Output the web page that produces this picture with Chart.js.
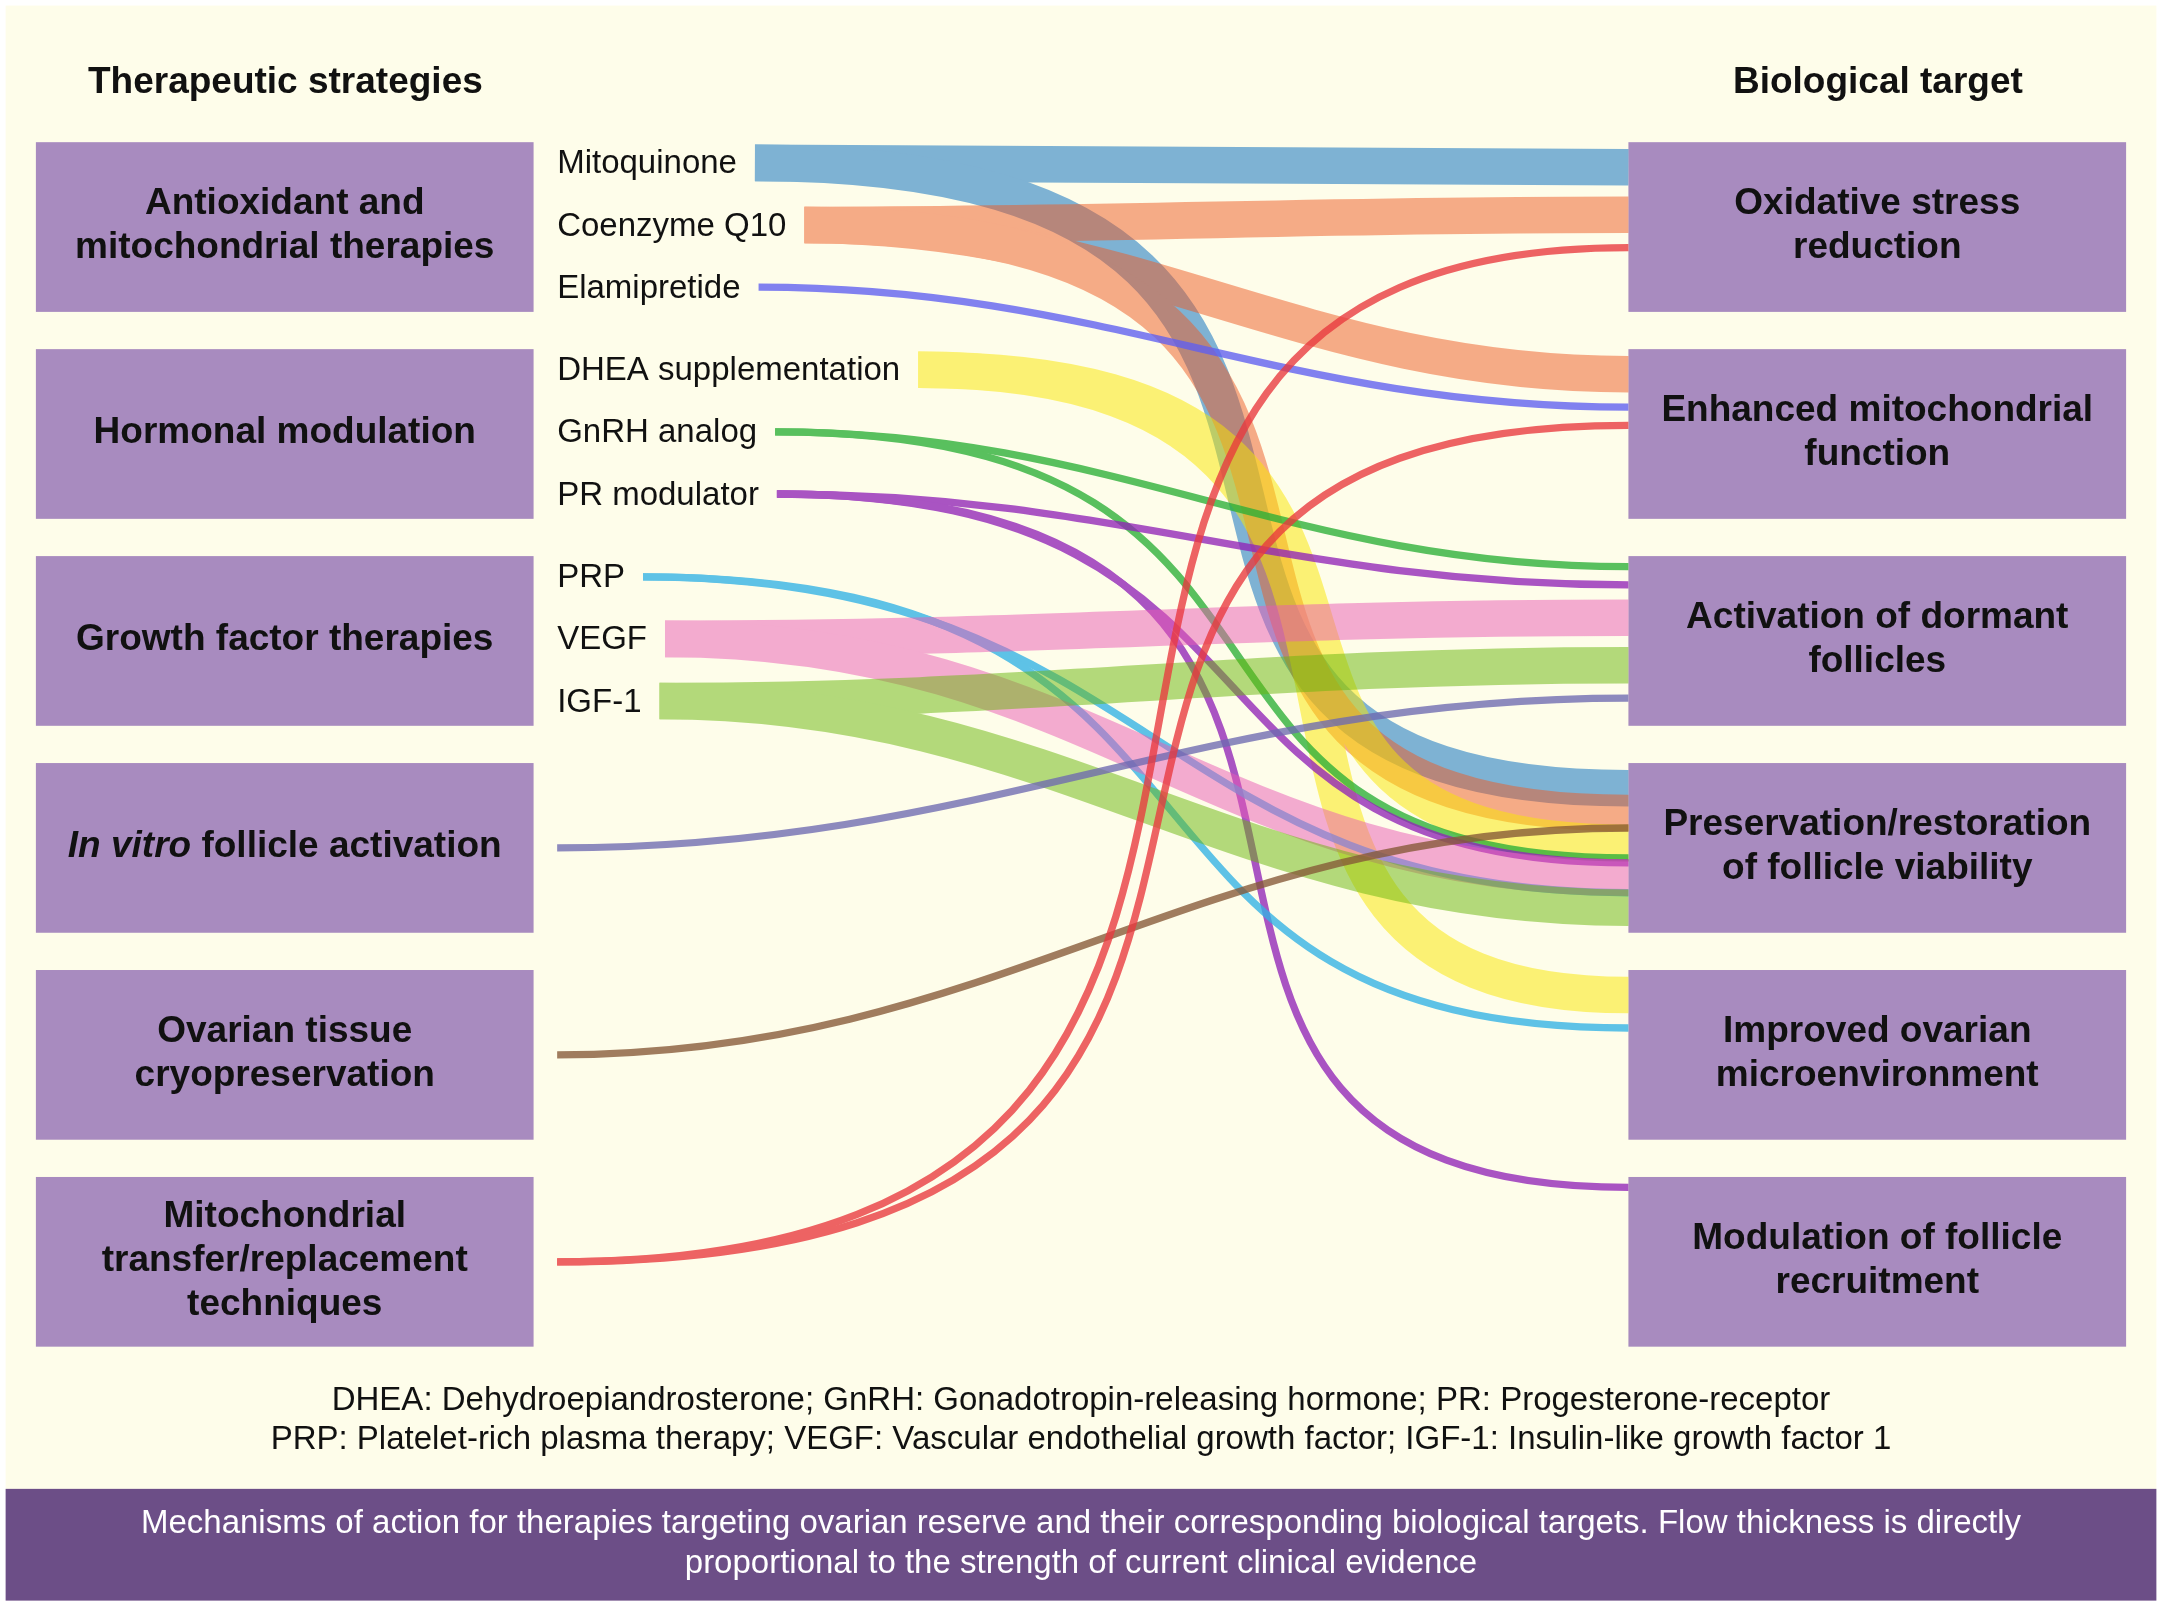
<!DOCTYPE html>
<html>
<head>
<meta charset="utf-8">
<script src="https://cdn.jsdelivr.net/npm/chart.js@4.4.0/dist/chart.umd.min.js"></script>
<style>
  html, body { margin: 0; padding: 0; background: #ffffff; }
  canvas { display: block; }
</style>
</head>
<body>
<canvas id="chart" width="2162" height="1606"></canvas>
<script>
// left column: therapeutic strategies (text between * is italic)
const strategies = [
  ['Antioxidant and', 'mitochondrial therapies'],
  ['Hormonal modulation'],
  ['Growth factor therapies'],
  ['*In vitro* follicle activation'],
  ['Ovarian tissue', 'cryopreservation'],
  ['Mitochondrial', 'transfer/replacement', 'techniques']
];

// the agents listed inside each strategy
const treatments = ['Mitoquinone', 'Coenzyme Q10', 'Elamipretide',
  'DHEA supplementation', 'GnRH analog', 'PR modulator',
  'PRP', 'VEGF', 'IGF-1'];
const treatmentGroup = [0, 0, 0, 1, 1, 1, 2, 2, 2];

// right column: biological targets
const targets = [
  ['Oxidative stress', 'reduction'],
  ['Enhanced mitochondrial', 'function'],
  ['Activation of dormant', 'follicles'],
  ['Preservation/restoration', 'of follicle viability'],
  ['Improved ovarian', 'microenvironment'],
  ['Modulation of follicle', 'recruitment']
];

// flow sources: the nine agents, then three strategies that flow on their own
const flowSources = ['Mitoquinone', 'Coenzyme Q10', 'Elamipretide',
  'DHEA supplementation', 'GnRH analog', 'PR modulator', 'PRP', 'VEGF', 'IGF-1',
  'In vitro follicle activation', 'Ovarian tissue cryopreservation',
  'Mitochondrial transfer/replacement techniques'];
const flowSourceStrategy = [0, 0, 0, 1, 1, 1, 2, 2, 2, 3, 4, 5];

// links, listed in the order they stack on each target
const linkSource = [
  'Mitoquinone', 'Coenzyme Q10', 'Mitochondrial transfer/replacement techniques',
  'Coenzyme Q10', 'Elamipretide', 'Mitochondrial transfer/replacement techniques',
  'GnRH analog', 'PR modulator', 'VEGF', 'IGF-1', 'In vitro follicle activation',
  'Mitoquinone', 'Coenzyme Q10', 'Ovarian tissue cryopreservation', 'DHEA supplementation',
  'GnRH analog', 'PR modulator', 'VEGF', 'PRP', 'IGF-1',
  'DHEA supplementation', 'PRP',
  'PR modulator'
];
const linkTarget = [
  0, 0, 0,
  1, 1, 1,
  2, 2, 2, 2, 2,
  3, 3, 3, 3, 3, 3, 3, 3, 3,
  4, 4,
  5
];
// strength of clinical evidence (flow thickness)
const linkEvidence = [
  5, 5, 1,
  5, 1, 1,
  1, 1, 5, 5, 1,
  5, 5, 1, 5, 1, 1, 5, 1, 5,
  5, 1,
  1
];

const footnote = [
  'DHEA: Dehydroepiandrosterone; GnRH: Gonadotropin-releasing hormone; PR: Progesterone-receptor',
  'PRP: Platelet-rich plasma therapy; VEGF: Vascular endothelial growth factor; IGF-1: Insulin-like growth factor 1'
];
const caption = [
  'Mechanisms of action for therapies targeting ovarian reserve and their corresponding biological targets. Flow thickness is directly',
  'proportional to the strength of current clinical evidence'
];

// ---- styles / layout (x in % of width, y in box rows) ----
const FONT = '"Liberation Sans", Arial, Helvetica, sans-serif';
const sourceColours = ['#0069bd', '#ee5b25', '#5f5ff1', '#fae700', '#2caf37', '#9225b8',
  '#32b2e5', '#ea5bb5', '#6ab70d', '#6e6ab1', '#865937', '#e9393e'];
const Y_MIN = -0.687, Y_MAX = 7.073;
const BOX_H = 0.82;
const LEFT_BOX = [1.66, 24.68], LABEL_X = 25.77, RIGHT_BOX = [75.32, 98.34];
const WEIGHT_V = 0.0353;      // row units per unit of evidence
const STACK_PAD = 0.033, STACK_GAP = 0.053;

function sourceY(s) {
  const name = flowSources[s];
  const t = treatments.indexOf(name);
  if (t >= 0) {
    const k = treatmentGroup.slice(0, t).filter(g => g === treatmentGroup[t]).length;
    return treatmentGroup[t] + 0.1 + 0.3 * k;
  }
  return flowSourceStrategy[s] + BOX_H / 2;
}

function targetCentres() {
  const centres = new Array(linkSource.length);
  targets.forEach((tg, ti) => {
    const idx = [];
    linkTarget.forEach((t, i) => { if (t === ti) idx.push(i); });
    const th = idx.map(i => linkEvidence[i] * WEIGHT_V);
    const top = ti + STACK_PAD, bottom = ti + BOX_H - STACK_PAD;
    const c = [];
    let pos = top;
    th.forEach(t => { c.push(pos + t / 2); pos += t + STACK_GAP; });
    pos -= STACK_GAP;
    if (pos > bottom && th.length > 1) {
      // not enough room: squeeze the flows together to fit the box
      let run = 0;
      const raw = th.map(t => { const m = run + t / 2; run += t; return m; });
      const first = top + th[0] / 2, last = bottom - th[th.length - 1] / 2;
      const k = (last - first) / (raw[raw.length - 1] - raw[0]);
      raw.forEach((m, j) => { c[j] = first + (m - raw[0]) * k; });
    }
    idx.forEach((i, j) => { centres[i] = c[j]; });
  });
  return centres;
}

const ends = targetCentres();
const datasets = linkSource.map((name, i) => {
  const s = flowSources.indexOf(name);
  return {
    label: name + ' -> ' + targets[linkTarget[i]].join(' '),
    source: s,
    evidence: linkEvidence[i],
    data: [{ x: LABEL_X, y: sourceY(s) }, { x: RIGHT_BOX[0], y: ends[i] }],
    pointRadius: 0,
    showLine: false
  };
});

function drawRich(ctx, line, cx, cy, size, weight) {
  const parts = line.split('*');
  const fonts = parts.map((p, i) => (i % 2 ? 'italic ' : '') + weight + ' ' + size + 'px ' + FONT);
  let total = 0;
  const widths = parts.map((p, i) => { ctx.font = fonts[i]; const w = ctx.measureText(p).width; total += w; return w; });
  let x = cx - total / 2;
  ctx.textAlign = 'left';
  parts.forEach((p, i) => { ctx.font = fonts[i]; ctx.fillText(p, x, cy); x += widths[i]; });
}

function labelWidth(ctx, s) {
  const name = flowSources[s];
  if (treatments.indexOf(name) < 0) return 0;
  ctx.font = '33px ' + FONT;
  return ctx.measureText(name).width + 18;
}

const diagram = {
  id: 'diagram',
  beforeDraw(chart) {
    const ctx = chart.ctx, xs = chart.scales.x, ys = chart.scales.y;
    const X = v => xs.getPixelForValue(v), Y = v => ys.getPixelForValue(v);
    ctx.save();
    ctx.fillStyle = '#ffffff';
    ctx.fillRect(0, 0, chart.width, chart.height);
    ctx.fillStyle = '#fefdea';
    ctx.fillRect(X(0.26), Y(-0.66), X(99.74) - X(0.26), Y(6.507) - Y(-0.66));

    ctx.fillStyle = '#111111';
    ctx.textBaseline = 'middle';
    drawRich(ctx, 'Therapeutic strategies', X(13.2), Y(-0.285), 37, 'bold');
    drawRich(ctx, 'Biological target', X(86.86), Y(-0.285), 37, 'bold');

    const lineStep = 0.2133;
    const drawBox = (row, x0, x1, lines) => {
      ctx.fillStyle = '#a88bbf';
      ctx.fillRect(X(x0), Y(row), X(x1) - X(x0), Y(row + BOX_H) - Y(row));
      ctx.fillStyle = '#111111';
      const mid = row + BOX_H / 2 - 0.004;
      lines.forEach((ln, k) => {
        drawRich(ctx, ln, (X(x0) + X(x1)) / 2, Y(mid + (k - (lines.length - 1) / 2) * lineStep), 37, 'bold');
      });
    };
    strategies.forEach((lines, r) => drawBox(r, LEFT_BOX[0], LEFT_BOX[1], lines));
    targets.forEach((lines, r) => drawBox(r, RIGHT_BOX[0], RIGHT_BOX[1], lines));

    ctx.font = '33px ' + FONT;
    ctx.textAlign = 'left';
    ctx.fillStyle = '#111111';
    treatments.forEach(t => {
      ctx.fillText(t, X(LABEL_X), Y(sourceY(flowSources.indexOf(t)) + 0.007));
    });
    ctx.restore();
  },
  afterDatasetsDraw(chart) {
    const ctx = chart.ctx, ys = chart.scales.y;
    const pxPerRow = Math.abs(ys.getPixelForValue(1) - ys.getPixelForValue(0));
    const off = document.createElement('canvas');
    off.width = chart.canvas.width;
    off.height = chart.canvas.height;
    const octx = off.getContext('2d');
    flowSources.forEach((name, s) => {
      const links = chart.data.datasets.map((d, i) => i).filter(i => chart.data.datasets[i].source === s);
      if (!links.length) return;
      octx.clearRect(0, 0, off.width, off.height);
      const shift = labelWidth(octx, s);
      let strong = false;
      links.forEach(i => {
        const pts = chart.getDatasetMeta(i).data;
        const ev = chart.data.datasets[i].evidence;
        if (ev > 2) strong = true;
        const x0 = pts[0].x + shift, y0 = pts[0].y, x1 = pts[1].x, y1 = pts[1].y;
        const run = x1 - x0;
        // gentle S for small drops, long flat start and late climb for big ones
        const steep = Math.max(0, Math.min(1, (Math.abs(y1 - y0) / run - 0.2) / 0.5));
        const hOut = 0.4 + 0.5 * steep, hIn = 0.4 + 0.35 * steep;
        octx.beginPath();
        octx.moveTo(x0, y0);
        octx.bezierCurveTo(x0 + run * hOut, y0, x1 - run * hIn, y1, x1, y1);
        octx.lineWidth = ev * WEIGHT_V * pxPerRow;
        octx.lineCap = 'butt';
        octx.strokeStyle = sourceColours[s];
        octx.stroke();
      });
      ctx.save();
      ctx.globalAlpha = strong ? 0.5 : 0.78;
      ctx.drawImage(off, 0, 0);
      ctx.restore();
    });
  },
  afterDraw(chart) {
    const ctx = chart.ctx, xs = chart.scales.x, ys = chart.scales.y;
    const X = v => xs.getPixelForValue(v), Y = v => ys.getPixelForValue(v);
    ctx.save();
    ctx.textBaseline = 'middle';
    ctx.fillStyle = '#111111';
    footnote.forEach((ln, k) => drawRich(ctx, ln, X(50), Y(6.083 + k * 0.187), 33, 'normal'));
    ctx.fillStyle = '#6c4e87';
    ctx.fillRect(X(0.26), Y(6.507), X(99.74) - X(0.26), Y(7.047) - Y(6.507));
    ctx.fillStyle = '#ffffff';
    caption.forEach((ln, k) => drawRich(ctx, ln, X(50), Y(6.676 + k * 0.193), 33, 'normal'));
    ctx.restore();
  }
};

new Chart(document.getElementById('chart'), {
  type: 'scatter',
  data: { datasets: datasets },
  options: {
    responsive: false,
    animation: false,
    devicePixelRatio: 1,
    events: [],
    layout: { padding: 0 },
    plugins: { legend: { display: false }, tooltip: { enabled: false } },
    scales: {
      x: { type: 'linear', min: 0, max: 100, display: false },
      y: { type: 'linear', min: Y_MIN, max: Y_MAX, reverse: true, display: false }
    }
  },
  plugins: [diagram]
});
</script>
</body>
</html>
